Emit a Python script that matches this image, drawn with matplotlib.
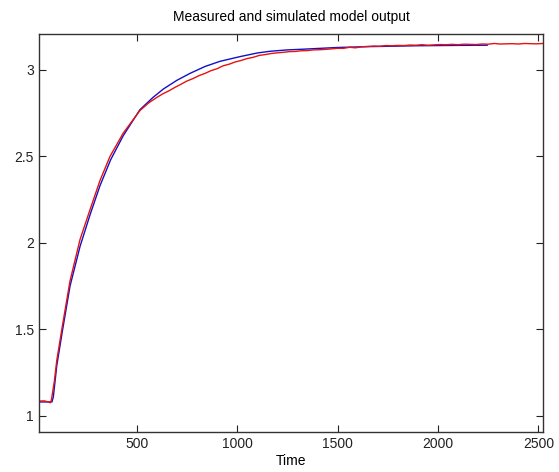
import matplotlib
matplotlib.use("Agg")
import matplotlib.pyplot as plt

# Simulated model output (blue, smooth)
sim_t = [15, 78, 85, 102, 130, 168, 218, 267, 317, 370, 433, 516, 580, 633, 700,
         765, 840, 915, 1014, 1100, 1164, 1250, 1328, 1500, 1661, 1900, 2100, 2245]
sim_y = [1.08, 1.08, 1.11, 1.29, 1.49, 1.75, 1.98, 2.16, 2.33, 2.48, 2.62, 2.77,
         2.84, 2.89, 2.94, 2.98, 3.02, 3.05, 3.077, 3.098, 3.108, 3.116, 3.12,
         3.13, 3.135, 3.14, 3.142, 3.143]

# Measured output (red, noisy)
meas_t = [15, 40, 60, 70, 75, 90, 102, 130, 168, 218, 267, 317, 367, 433, 516, 560,
          600, 630, 660, 690, 720, 750, 780, 810, 840, 870, 900, 930, 960, 990,
          1020, 1050, 1080, 1110, 1140, 1170, 1200, 1230, 1260, 1290, 1320, 1350,
          1380, 1410, 1440, 1470, 1500, 1530, 1560, 1590, 1620, 1650, 1680, 1710,
          1740, 1770, 1800, 1830, 1860, 1890, 1920, 1950, 1980, 2010, 2040, 2070,
          2100, 2130, 2160, 2190, 2220, 2250, 2280, 2310, 2340, 2370, 2400, 2430,
          2460, 2490, 2520]
meas_y = [1.085, 1.086, 1.08, 1.075, 1.09, 1.20, 1.32, 1.52, 1.78, 2.02, 2.19, 2.36,
          2.50, 2.635, 2.765, 2.81,
          2.841, 2.862, 2.879, 2.899, 2.917, 2.936, 2.950, 2.967, 2.980, 2.996,
          3.007, 3.024, 3.033, 3.046, 3.055, 3.066, 3.073, 3.084, 3.089, 3.095,
          3.099, 3.102, 3.106, 3.107, 3.111, 3.112, 3.116, 3.117, 3.119, 3.122,
          3.125, 3.125, 3.131, 3.128, 3.134, 3.136, 3.138, 3.137, 3.141, 3.140,
          3.142, 3.141, 3.144, 3.143, 3.146, 3.143, 3.145, 3.147, 3.146, 3.148,
          3.146, 3.149, 3.148, 3.147, 3.150, 3.149, 3.153, 3.150, 3.151, 3.152,
          3.150, 3.153, 3.152, 3.151, 3.153]

xticks = [500, 1000, 1500, 2000, 2500]
yticks = [1, 1.5, 2, 2.5, 3]
yticklabels = ["1", "1.5", "2", "2.5", "3"]

plt.rcParams['font.family'] = ['Liberation Sans', 'DejaVu Sans']

fig = plt.figure(figsize=(5.59, 4.72), dpi=100)
ax = fig.add_axes([0.0703, 0.0858, 0.9714 - 0.0703, 0.928 - 0.0858])

ax.plot(sim_t, sim_y, color='#1010c8', linewidth=1.0)
ax.plot(meas_t, meas_y, color='#e81010', linewidth=1.0)

ax.set_xlim(15, 2523)
ax.set_ylim(0.909, 3.208)
ax.set_xticks(xticks)
ax.set_yticks(yticks)
ax.set_yticklabels(yticklabels)
ax.tick_params(direction='in', length=5, width=0.8, top=True, right=True,
               labelsize=10, colors='#222222', pad=4)
for s in ax.spines.values():
    s.set_color('#333333')
    s.set_linewidth(1.0)
ax.set_xlabel('Time', fontsize=10, labelpad=2)
ax.set_title('Measured and simulated model output', fontsize=10, pad=9)

fig.savefig('out.png', dpi=100)
